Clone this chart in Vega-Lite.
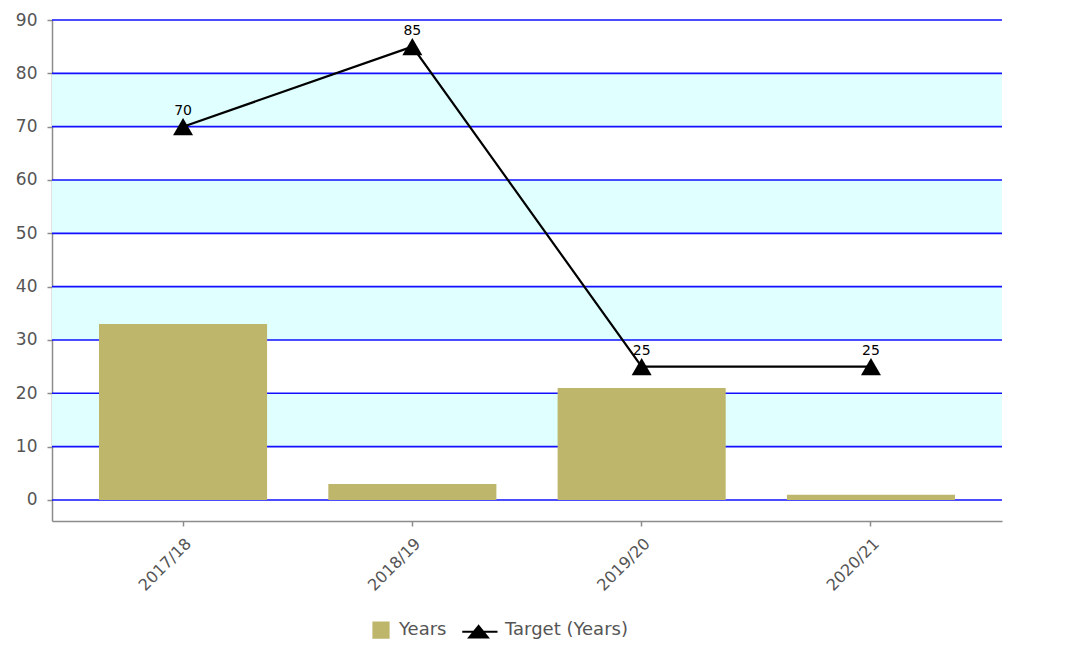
{
  "$schema": "https://vega.github.io/schema/vega-lite/v6.json",
  "width": 950,
  "height": 501,
  "autosize": "none",
  "padding": {"left": 52, "top": 20, "right": 84, "bottom": 125},
  "background": "white",
  "config": {
    "view": {"stroke": null},
    "font": "DejaVu Sans",
    "axisY": {"domainColor": "#8c8c8c", "domainWidth": 1.5, "tickColor": "#8c8c8c", "tickSize": 5, "tickWidth": 1.5, "labelColor": "#555555", "labelFontSize": 17, "labelPadding": 10, "grid": false, "title": null},
    "axisX": {"domainColor": "#8c8c8c", "domainWidth": 1.5, "tickColor": "#8c8c8c", "tickSize": 5, "tickWidth": 1.5, "labelColor": "#555555", "labelFontSize": 16, "labelAngle": -45, "labelAlign": "right", "labelBaseline": "top", "labelPadding": 9, "grid": false, "title": null}
  },
  "datasets": {
    "main": [
      {"period": "2017/18", "years": 33, "target": 70},
      {"period": "2018/19", "years": 3, "target": 85},
      {"period": "2019/20", "years": 21, "target": 25},
      {"period": "2020/21", "years": 1, "target": 25}
    ],
    "bands": [
      {"from": 10, "to": 20},
      {"from": 30, "to": 40},
      {"from": 50, "to": 60},
      {"from": 70, "to": 80}
    ],
    "grid": [
      {"v": 0}, {"v": 10}, {"v": 20}, {"v": 30}, {"v": 40},
      {"v": 50}, {"v": 60}, {"v": 70}, {"v": 80}, {"v": 90}
    ]
  },
  "layer": [
    {
      "data": {"name": "bands"},
      "mark": {"type": "rect", "color": "#e0ffff"},
      "encoding": {
        "y": {"field": "from", "type": "quantitative", "scale": {"domain": [-3.94, 90], "nice": false, "zero": false}, "axis": {"values": [0, 10, 20, 30, 40, 50, 60, 70, 80, 90]}},
        "y2": {"field": "to"}
      }
    },
    {
      "data": {"name": "grid"},
      "mark": {"type": "rule", "color": "#1010ff", "strokeWidth": 1.6},
      "encoding": {"y": {"field": "v", "type": "quantitative"}}
    },
    {
      "data": {"name": "main"},
      "mark": {"type": "bar"},
      "encoding": {
        "x": {"field": "period", "type": "nominal", "sort": null, "scale": {"paddingInner": 0.267, "paddingOuter": 0.205}},
        "y": {"field": "years", "type": "quantitative"},
        "color": {
          "datum": "Years",
          "scale": {"domain": ["Years", "Target (Years)"], "range": ["#bdb66b", "#000000"]},
          "legend": {
            "orient": "none", "legendX": 320, "legendY": 601, "direction": "horizontal", "title": null,
            "symbolSize": 225, "labelOffset": 9, "columnPadding": 10,
            "labelFontSize": 18, "labelColor": "#555555", "labelFont": "DejaVu Sans",
            "encode": {"symbols": {"update": {
              "shape": {"signal": "datum.value === 'Years' ? 'square' : 'M-3.3,0.2L1.4,0.2M-1.13,-0.55L-2.35,0.95L0.09,0.95Z'"},
              "fill": {"signal": "datum.value === 'Years' ? '#bdb66b' : '#000000'"},
              "stroke": {"signal": "datum.value === 'Years' ? 'transparent' : '#000000'"},
              "strokeWidth": {"value": 2.2},
              "opacity": {"value": 1}
            }}}
          }
        }
      }
    },
    {
      "data": {"name": "main"},
      "mark": {"type": "line", "strokeWidth": 2.2},
      "encoding": {
        "x": {"field": "period", "type": "nominal", "sort": null},
        "y": {"field": "target", "type": "quantitative"},
        "color": {"datum": "Target (Years)"}
      }
    },
    {
      "data": {"name": "main"},
      "mark": {"type": "point", "shape": "triangle-up", "filled": true, "size": 400, "color": "#000000", "opacity": 1},
      "encoding": {
        "x": {"field": "period", "type": "nominal", "sort": null},
        "y": {"field": "target", "type": "quantitative"}
      }
    },
    {
      "data": {"name": "main"},
      "mark": {"type": "text", "fontSize": 14, "color": "#000000", "baseline": "alphabetic", "dy": -12},
      "encoding": {
        "x": {"field": "period", "type": "nominal", "sort": null},
        "y": {"field": "target", "type": "quantitative"},
        "text": {"field": "target", "type": "quantitative"}
      }
    }
  ]
}
